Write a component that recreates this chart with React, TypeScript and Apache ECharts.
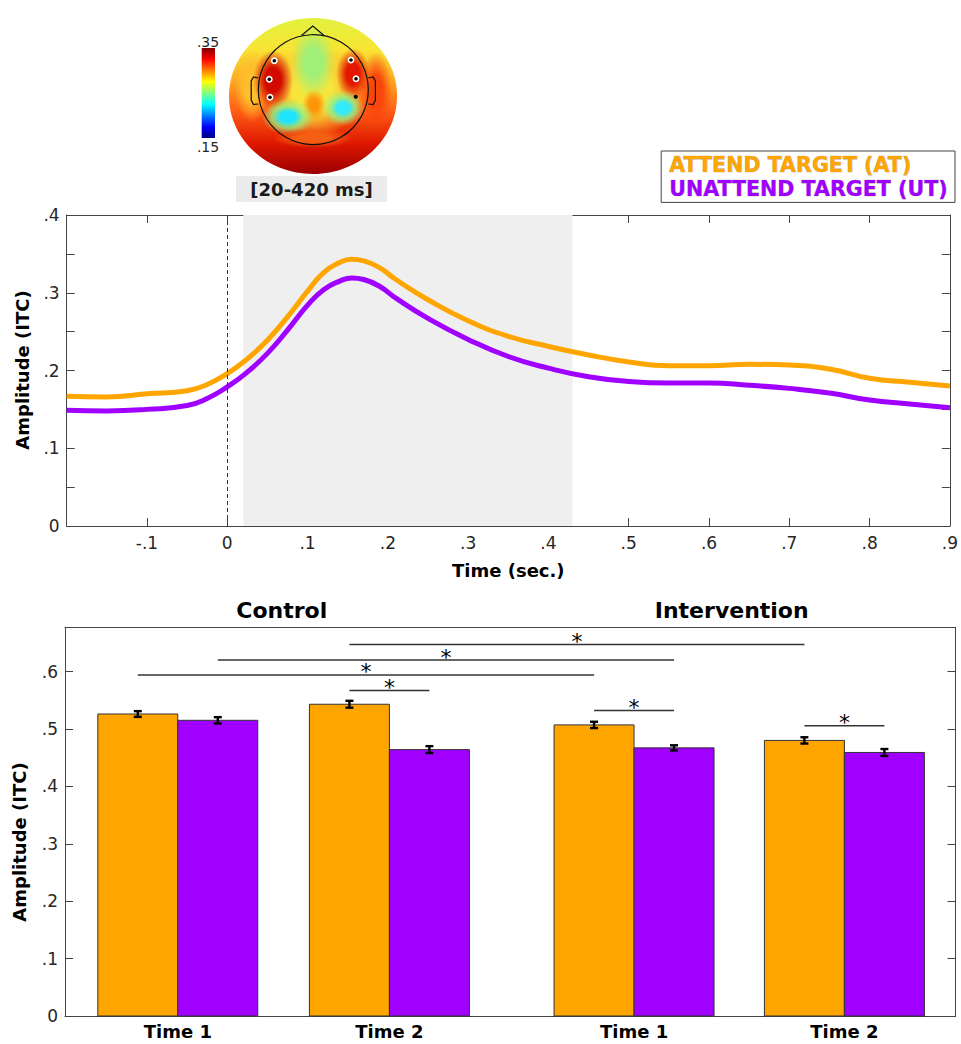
import React, { useEffect, useRef } from "react";
import * as echarts from "echarts";

// ---- Time course (ITC) ----
const TIME_S = [-0.2, -0.15, -0.1, -0.05, -0.025, 0, 0.025, 0.05, 0.075, 0.1, 0.12, 0.14, 0.155, 0.17, 0.19, 0.21, 0.25, 0.3, 0.35, 0.4, 0.45, 0.5, 0.55, 0.6, 0.65, 0.7, 0.75, 0.8, 0.85, 0.9];
const AT_ITC = [0.167, 0.166, 0.170, 0.174, 0.182, 0.196, 0.215, 0.239, 0.269, 0.302, 0.326, 0.339, 0.343, 0.341, 0.332, 0.317, 0.291, 0.264, 0.244, 0.231, 0.220, 0.211, 0.206, 0.206, 0.208, 0.207, 0.202, 0.190, 0.185, 0.180];
const UT_ITC = [0.149, 0.148, 0.150, 0.155, 0.164, 0.179, 0.198, 0.222, 0.252, 0.284, 0.304, 0.315, 0.319, 0.317, 0.308, 0.293, 0.267, 0.240, 0.218, 0.203, 0.192, 0.186, 0.184, 0.184, 0.181, 0.177, 0.171, 0.162, 0.157, 0.152];
const WINDOW_S = [0.02, 0.43];

// ---- Window means per group / session ----
const TIME_LABELS = ["Time 1", "Time 2", "Time 1", "Time 2"];
const GROUP_TITLES = ["Control", "Intervention"];
const AT_MEAN = [0.526, 0.543, 0.507, 0.480];
const AT_SEM = [0.005, 0.006, 0.0055, 0.0055];
const UT_MEAN = [0.515, 0.464, 0.467, 0.459];
const UT_SEM = [0.0055, 0.006, 0.0045, 0.006];

// significant comparisons: [session a, condition a, session b, condition b] (condition 0 = AT, 1 = UT)
const SIG_PAIRS = [
  [1, 0, 3, 0],
  [0, 1, 2, 1],
  [0, 0, 2, 0],
  [1, 0, 1, 1],
  [2, 0, 2, 1],
  [3, 0, 3, 1],
];

// layout of the bar axis
const BAR_POS = [1, 2, 3.156, 4.15];
const BAR_W = 0.378;
const BAR_XMIN = 0.467;
const BAR_XMAX = 4.675;
const SIG_LEVELS = [0.647, 0.62, 0.594, 0.567, 0.532, 0.5056];

const AT_NAME = "ATTEND TARGET (AT)";
const UT_NAME = "UNATTEND TARGET (UT)";
const ORANGE = "#ffa500";
const PURPLE = "#a000ff";
const FONT = "DejaVu Sans";
const AXIS_COLOR = "#444";
const LABEL_COLOR = "#262626";

const fmtTick = (v: number) => {
  const k = Math.round(v * 100);
  if (k % 10 !== 0) return "";
  if (k === 0) return "0";
  const s = (Math.abs(k) / 100).toFixed(1).replace(/^0/, "");
  return (k < 0 ? "-" : "") + s;
};

const barCenter = (session: number, cond: number) =>
  BAR_POS[session] + (cond === 0 ? -BAR_W / 2 : BAR_W / 2);

const fade = (rgb: string, a: number) => rgb.replace("rgb(", "rgba(").replace(")", `,${a})`);

// soft colour patch for the scalp map
function blob(cx: number, cy: number, rx: number, ry: number, color: string, ring?: string) {
  const stops = ring
    ? [
        { offset: 0, color },
        { offset: 0.3, color },
        { offset: 0.62, color: fade(ring, 0.75) },
        { offset: 1, color: fade(ring, 0) },
      ]
    : [
        { offset: 0, color },
        { offset: 0.4, color },
        { offset: 1, color: fade(color, 0) },
      ];
  return {
    type: "ellipse",
    shape: { cx, cy, rx, ry },
    style: { fill: { type: "radial", x: 0.5, y: 0.5, r: 0.5, colorStops: stops } },
    silent: true,
  };
}

function topoGraphics() {
  const cx = 313.3;
  const cy = 89.7;
  const r = 55;
  const out: any[] = [];
  out.push({
    type: "ellipse",
    shape: { cx: 313, cy: 96, rx: 84, ry: 78 },
    style: {
      fill: {
        type: "linear",
        x: 0,
        y: 0,
        x2: 0,
        y2: 1,
        colorStops: [
          { offset: 0, color: "#e2f23e" },
          { offset: 0.2, color: "#f8e434" },
          { offset: 0.4, color: "#ffa822" },
          { offset: 0.6, color: "#ff5c14" },
          { offset: 0.8, color: "#e01800" },
          { offset: 1, color: "#9a0000" },
        ],
      },
    },
    silent: true,
  });
  out.push(blob(252, 86, 18, 36, "rgb(255,190,45)"));
  out.push(blob(376, 92, 16, 40, "rgb(248,70,12)"));
  out.push(blob(313, 92, 48, 46, "rgb(246,230,60)"));
  out.push(blob(313, 62, 22, 36, "rgb(160,240,120)"));
  out.push(blob(273, 80, 20, 30, "rgb(210,10,0)"));
  out.push(blob(353, 74, 17, 26, "rgb(228,24,0)"));
  out.push(blob(314, 105, 12, 16, "rgb(255,150,10)"));
  out.push(blob(288, 117, 26, 18, "rgb(30,228,255)", "rgb(150,245,130)"));
  out.push(blob(343, 108, 21, 18, "rgb(50,234,252)", "rgb(150,245,130)"));
  out.push(blob(313, 138, 40, 10, "rgb(245,95,20)"));
  const stroke = { fill: "none", stroke: "#111", lineWidth: 1.2 };
  out.push({ type: "circle", shape: { cx, cy, r }, style: stroke, silent: true });
  out.push({ type: "polyline", shape: { points: [[301.5, 35.5], [312.8, 26], [324, 35.5]] }, style: stroke, silent: true });
  const ear = [[258.4, 78], [253.5, 77], [251.2, 81], [251.2, 100], [253.5, 104.5], [258.4, 104]];
  out.push({ type: "polyline", shape: { points: ear }, style: stroke, silent: true });
  out.push({ type: "polyline", shape: { points: ear.map(([x, y]) => [2 * cx - x, y]) }, style: stroke, silent: true });
  const ringed = [[274.3, 60.7], [269.3, 79.3], [270, 97.3], [351, 60], [356, 78.7]];
  ringed.forEach(([x, y]) => {
    out.push({ type: "circle", shape: { cx: x, cy: y, r: 3.4 }, style: { fill: "#fff" }, silent: true });
    out.push({ type: "circle", shape: { cx: x, cy: y, r: 1.8 }, style: { fill: "#000" }, silent: true });
  });
  out.push({ type: "circle", shape: { cx: 355.7, cy: 96.7, r: 2 }, style: { fill: "#000" }, silent: true });
  // colour bar (jet, .15 - .35)
  out.push({
    type: "rect",
    shape: { x: 201.7, y: 48, width: 13.3, height: 90 },
    style: {
      fill: {
        type: "linear",
        x: 0,
        y: 0,
        x2: 0,
        y2: 1,
        colorStops: [
          { offset: 0, color: "#800000" },
          { offset: 0.125, color: "#ff0000" },
          { offset: 0.375, color: "#ffff00" },
          { offset: 0.5, color: "#80ff80" },
          { offset: 0.625, color: "#00ffff" },
          { offset: 0.875, color: "#0000ff" },
          { offset: 1, color: "#000080" },
        ],
      },
    },
    silent: true,
  });
  const small = { fill: LABEL_COLOR, font: `14px '${FONT}'`, textAlign: "center", align: "center", textVerticalAlign: "middle", verticalAlign: "middle" };
  out.push({ type: "text", x: 208, y: 41.5, style: { ...small, text: ".35" }, silent: true });
  out.push({ type: "text", x: 208, y: 146.5, style: { ...small, text: ".15" }, silent: true });
  out.push({ type: "rect", shape: { x: 236, y: 176, width: 151, height: 26 }, style: { fill: "#ebebeb" }, silent: true });
  out.push({
    type: "text",
    x: 311.5,
    y: 189,
    style: { text: "[20-420 ms]", fill: "#1a1a1a", font: `bold 18px '${FONT}'`, textAlign: "center", align: "center", textVerticalAlign: "middle", verticalAlign: "middle" },
    silent: true,
  });
  return out;
}

function textGraphics() {
  const bold = (size: number) => `bold ${size}px '${FONT}'`;
  const center = { textAlign: "center", align: "center", textVerticalAlign: "middle", verticalAlign: "middle", fill: "#000" };
  return [
    { type: "text", x: 281.7, y: 610, style: { ...center, text: GROUP_TITLES[0], font: bold(22) }, silent: true },
    { type: "text", x: 731.7, y: 610, style: { ...center, text: GROUP_TITLES[1], font: bold(22) }, silent: true },
    { type: "text", x: 22, y: 370, rotation: Math.PI / 2, style: { ...center, text: "Amplitude (ITC)", font: bold(18) }, silent: true },
    { type: "text", x: 19, y: 842, rotation: Math.PI / 2, style: { ...center, text: "Amplitude (ITC)", font: bold(18) }, silent: true },
  ];
}

function buildOption(): any {
  const atLine = TIME_S.map((t, i) => [t, AT_ITC[i]]);
  const utLine = TIME_S.map((t, i) => [t, UT_ITC[i]]);
  const tick = { show: true, inside: true, length: 8, lineStyle: { color: AXIS_COLOR, width: 1 } };
  const line = { show: true, onZero: false, lineStyle: { color: AXIS_COLOR, width: 1 } };
  const label = { color: LABEL_COLOR, fontSize: 17, fontFamily: FONT };

  const barSeries = (name: string, means: number[], sems: number[], cond: number, color: string) => ({
    type: "custom",
    name,
    xAxisIndex: 2,
    yAxisIndex: 2,
    encode: { x: 0, y: 1 },
    data: BAR_POS.map((p, i) => [p, means[i], sems[i]]),
    renderItem: (_p: any, api: any) => {
      const pos = api.value(0);
      const v = api.value(1);
      const e = api.value(2);
      const left = cond === 0 ? pos - BAR_W : pos;
      const tl = api.coord([left, v]);
      const br = api.coord([left + BAR_W, 0]);
      const cx = (tl[0] + br[0]) / 2;
      const yHi = api.coord([left, v + e])[1];
      const yLo = api.coord([left, v - e])[1];
      const cap = 4;
      const es = { stroke: "#000", lineWidth: 2.4 };
      return {
        type: "group",
        children: [
          { type: "rect", shape: { x: tl[0], y: tl[1], width: br[0] - tl[0], height: br[1] - tl[1] }, style: { fill: color, stroke: "#333", lineWidth: 1 } },
          { type: "line", shape: { x1: cx, y1: yHi, x2: cx, y2: yLo }, style: es },
          { type: "line", shape: { x1: cx - cap, y1: yHi, x2: cx + cap, y2: yHi }, style: es },
          { type: "line", shape: { x1: cx - cap, y1: yLo, x2: cx + cap, y2: yLo }, style: es },
        ],
      };
    },
  });

  return {
    animation: false,
    backgroundColor: "#fff",
    textStyle: { fontFamily: FONT },
    legend: {
      orient: "vertical",
      right: 6,
      top: 151,
      selectedMode: false,
      itemWidth: 0,
      itemHeight: 0,
      itemGap: 2,
      padding: [3, 7, 3, 3],
      borderColor: AXIS_COLOR,
      borderWidth: 1,
      backgroundColor: "#fff",
      icon: "rect",
      itemStyle: { opacity: 0 },
      lineStyle: { opacity: 0 },
      textStyle: { fontSize: 20.6, fontWeight: "bold", fontFamily: FONT, lineHeight: 21, textBorderColor: "rgba(60,40,20,0.45)", textBorderWidth: 0.7 },
      data: [
        { name: AT_NAME, textStyle: { color: ORANGE } },
        { name: UT_NAME, textStyle: { color: PURPLE } },
      ],
    },
    grid: [
      { left: 66.7, top: 215, width: 888.3, height: 311 },
      { left: 65, top: 627.3, width: 890.5, height: 388.7 },
    ],
    xAxis: [
      {
        type: "value", gridIndex: 0, min: -0.2, max: 0.9, interval: 0.1,
        axisLine: line, axisTick: tick, splitLine: { show: false },
        axisLabel: { ...label, margin: 8, formatter: (v: number) => (v < -0.15 ? "" : fmtTick(v)) },
        name: "Time (sec.)", nameLocation: "middle", nameGap: 35,
        nameTextStyle: { fontSize: 18, fontWeight: "bold", color: "#000", fontFamily: FONT },
      },
      {
        type: "value", gridIndex: 0, position: "top", min: -0.2, max: 0.9, interval: 0.1,
        axisLine: line, axisTick: tick, axisLabel: { show: false }, splitLine: { show: false },
      },
      {
        type: "value", gridIndex: 1, min: BAR_XMIN, max: BAR_XMAX,
        axisLine: line, axisTick: { show: false }, axisLabel: { show: false }, splitLine: { show: false },
      },
      {
        type: "value", gridIndex: 1, position: "top", min: BAR_XMIN, max: BAR_XMAX,
        axisLine: line, axisTick: { show: false }, axisLabel: { show: false }, splitLine: { show: false },
      },
    ],
    yAxis: [
      {
        type: "value", gridIndex: 0, min: 0, max: 0.4, interval: 0.05,
        axisLine: line, axisTick: tick, splitLine: { show: false },
        axisLabel: { ...label, margin: 7, formatter: fmtTick },
      },
      {
        type: "value", gridIndex: 0, position: "right", min: 0, max: 0.4, interval: 0.05,
        axisLine: line, axisTick: tick, axisLabel: { show: false }, splitLine: { show: false },
      },
      {
        type: "value", gridIndex: 1, min: 0, max: 0.677, interval: 0.1,
        axisLine: line, axisTick: tick, splitLine: { show: false },
        axisLabel: { ...label, margin: 7, formatter: fmtTick },
      },
      {
        type: "value", gridIndex: 1, position: "right", min: 0, max: 0.677, interval: 0.1,
        axisLine: line, axisTick: tick, axisLabel: { show: false }, splitLine: { show: false },
      },
    ],
    series: [
      {
        type: "line",
        name: UT_NAME,
        xAxisIndex: 0,
        yAxisIndex: 0,
        data: utLine,
        smooth: 0.5,
        showSymbol: false,
        color: PURPLE,
        lineStyle: { width: 5, color: PURPLE },
        markArea: {
          silent: true,
          itemStyle: { color: "#efefef" },
          data: [[{ xAxis: WINDOW_S[0] }, { xAxis: WINDOW_S[1] }]],
        },
        markLine: {
          silent: true,
          symbol: "none",
          label: { show: false },
          lineStyle: { type: [4, 3], color: "#333", width: 1 },
          data: [{ xAxis: 0 }],
        },
      },
      {
        type: "line",
        name: AT_NAME,
        xAxisIndex: 0,
        yAxisIndex: 0,
        data: atLine,
        smooth: 0.5,
        showSymbol: false,
        color: ORANGE,
        lineStyle: { width: 5, color: ORANGE },
      },
      barSeries("AT mean", AT_MEAN, AT_SEM, 0, ORANGE),
      barSeries("UT mean", UT_MEAN, UT_SEM, 1, PURPLE),
      {
        // session labels under each pair of bars
        type: "custom",
        name: "sessions",
        xAxisIndex: 2,
        yAxisIndex: 2,
        clip: false,
        encode: { x: 0, y: 1 },
        data: BAR_POS.map((p) => [p, 0]),
        renderItem: (p: any, api: any) => {
          const pt = api.coord([api.value(0), 0]);
          return {
            type: "text",
            x: pt[0],
            y: pt[1] + 15,
            style: {
              text: TIME_LABELS[p.dataIndex],
              fill: "#000",
              font: `bold 18px '${FONT}'`,
              align: "center",
              verticalAlign: "middle",
              textAlign: "center",
              textVerticalAlign: "middle",
            },
          };
        },
      },
      {
        type: "custom",
        name: "comparisons",
        xAxisIndex: 2,
        yAxisIndex: 2,
        encode: { x: [0, 1], y: 2 },
        data: SIG_PAIRS.map(([sa, ca, sb, cb], i) => [barCenter(sa, ca), barCenter(sb, cb), SIG_LEVELS[i]]),
        renderItem: (_p: any, api: any) => {
          const a = api.coord([api.value(0), api.value(2)]);
          const b = api.coord([api.value(1), api.value(2)]);
          return {
            type: "group",
            children: [
              { type: "line", shape: { x1: a[0], y1: a[1], x2: b[0], y2: b[1] }, style: { stroke: "#333", lineWidth: 1.5 } },
              {
                type: "text",
                x: (a[0] + b[0]) / 2,
                y: a[1] - 3,
                style: { text: "*", fill: "#000", font: `22px '${FONT}'`, align: "center", verticalAlign: "middle", textAlign: "center", textVerticalAlign: "middle" },
              },
            ],
          };
        },
      },
    ],
    graphic: [...topoGraphics(), ...textGraphics()],
  };
}

export default function App() {
  const ref = useRef<HTMLDivElement>(null);
  useEffect(() => {
    if (!ref.current) return;
    const chart = echarts.init(ref.current, null, { renderer: "svg" });
    chart.setOption(buildOption());
    return () => chart.dispose();
  }, []);
  return <div ref={ref} style={{ position: "fixed", left: 0, top: 0, width: 961, height: 1044, background: "#fff" }} />;
}
